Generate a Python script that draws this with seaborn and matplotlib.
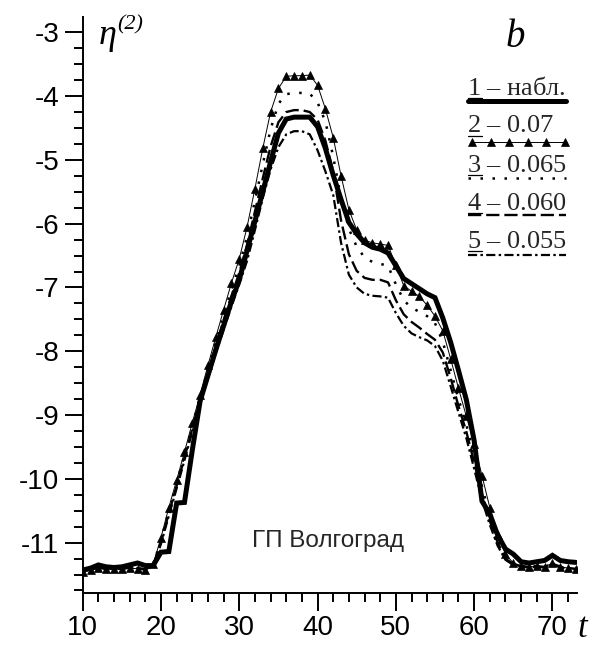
import matplotlib
matplotlib.use("Agg")
import matplotlib.pyplot as plt
import seaborn as sns
from matplotlib.lines import Line2D
from matplotlib.ticker import MultipleLocator

# ---------------- data ----------------
t = list(range(10, 74))

obs = [-11.43, -11.40, -11.35, -11.38, -11.39, -11.38, -11.35, -11.32, -11.36, -11.36,
       -11.15, -11.14, -10.38, -10.37, -9.55, -8.78, -8.38, -7.98, -7.60, -7.22,
       -6.88, -6.42, -5.96, -5.50, -5.03, -4.58, -4.36, -4.33, -4.33, -4.33,
       -4.48, -4.82, -5.24, -5.62, -5.98, -6.16, -6.30, -6.37, -6.40, -6.46,
       -6.66, -6.86, -6.94, -7.02, -7.10, -7.16, -7.48, -7.86, -8.30, -8.76,
       -9.40, -10.35, -10.55, -10.88, -11.10, -11.18, -11.30, -11.32, -11.30, -11.28,
       -11.20, -11.28, -11.30, -11.31]

m070 = [-11.46, -11.43, -11.40, -11.42, -11.41, -11.42, -11.40, -11.41, -11.43, -11.34,
        -10.92, -10.45, -10.02, -9.58, -9.12, -8.68, -8.22, -7.78, -7.35, -6.93,
        -6.55, -6.05, -5.45, -4.82, -4.25, -3.88, -3.69, -3.68, -3.68, -3.67,
        -3.83, -4.20, -4.65, -5.25, -5.78, -6.10, -6.26, -6.30, -6.32, -6.34,
        -6.65, -6.97, -7.06, -7.14, -7.28, -7.45, -7.68, -8.12, -8.58, -9.02,
        -9.45, -9.95, -10.45, -10.88, -11.18, -11.32, -11.36, -11.38, -11.37, -11.38,
        -11.32, -11.38, -11.40, -11.42]

m065 = [-11.45, -11.42, -11.39, -11.41, -11.40, -11.41, -11.39, -11.40, -11.42, -11.35,
        -10.96, -10.50, -10.07, -9.63, -9.17, -8.72, -8.28, -7.85, -7.43, -7.03,
        -6.66, -6.20, -5.64, -5.07, -4.52, -4.12, -3.97, -3.95, -3.95, -3.96,
        -4.10, -4.40, -4.95, -5.60, -6.08, -6.36, -6.53, -6.60, -6.63, -6.66,
        -6.95, -7.20, -7.32, -7.38, -7.45, -7.56, -7.85, -8.30, -8.75, -9.15,
        -9.62, -10.12, -10.58, -10.95, -11.22, -11.33, -11.37, -11.38, -11.37, -11.38,
        -11.33, -11.38, -11.40, -11.41]

m060 = [-11.45, -11.42, -11.39, -11.41, -11.40, -11.41, -11.39, -11.40, -11.42, -11.36,
        -10.99, -10.54, -10.11, -9.67, -9.21, -8.76, -8.33, -7.92, -7.51, -7.13,
        -6.77, -6.33, -5.81, -5.29, -4.79, -4.41, -4.25, -4.22, -4.22, -4.25,
        -4.37, -4.70, -5.18, -5.95, -6.48, -6.74, -6.85, -6.88, -6.88, -6.92,
        -7.20, -7.42, -7.54, -7.63, -7.73, -7.82, -8.02, -8.42, -8.86, -9.26,
        -9.74, -10.24, -10.66, -11.00, -11.25, -11.34, -11.37, -11.38, -11.37, -11.38,
        -11.33, -11.38, -11.40, -11.41]

m055 = [-11.45, -11.42, -11.39, -11.41, -11.40, -11.41, -11.39, -11.40, -11.42, -11.37,
        -11.02, -10.58, -10.15, -9.71, -9.26, -8.81, -8.42, -8.03, -7.66, -7.30,
        -6.95, -6.58, -6.10, -5.60, -5.15, -4.80, -4.60, -4.55, -4.55, -4.60,
        -4.85, -5.18, -5.55, -6.30, -6.80, -7.00, -7.10, -7.13, -7.14, -7.16,
        -7.40, -7.60, -7.72, -7.78, -7.83, -7.92, -8.15, -8.55, -8.96, -9.36,
        -9.84, -10.33, -10.72, -11.05, -11.27, -11.35, -11.38, -11.39, -11.38, -11.39,
        -11.34, -11.39, -11.41, -11.42]

legend_nums = ["1", "2", "3", "4", "5"]
legend_texts = [" – набл.", " – 0.07", " – 0.065", " – 0.060", " – 0.055"]
xticks = [10, 20, 30, 40, 50, 60, 70]
yticks = [-11, -10, -9, -8, -7, -6, -5, -4, -3]
station = "ГП Волгоград"

# ---------------- style ----------------
sns.set_style("ticks")
plt.rcParams['font.family'] = ['Liberation Sans', 'DejaVu Sans']
plt.rcParams['axes.unicode_minus'] = False
plt.rcParams['mathtext.fontset'] = 'custom'
plt.rcParams['mathtext.it'] = 'Liberation Serif:italic'
plt.rcParams['mathtext.rm'] = 'Liberation Serif'

W, H = 590, 646
fig = plt.figure(figsize=(W / 100, H / 100), dpi=100)
ax = fig.add_axes([82.7 / W, 53 / H, (576.7 - 82.7) / W, (593 - 17) / H])

s_obs = dict(color='k', lw=3.6, solid_joinstyle='miter')
s_070 = dict(color='k', lw=0.7, marker='^', markersize=5.5, markerfacecolor='k',
             markeredgecolor='k', markeredgewidth=0.5)
s_065 = dict(color='k', lw=1.8, linestyle=(0, (1.0, 3.8)))
s_060 = dict(color='k', lw=1.7, linestyle=(0, (5.6, 2.1)))
s_055 = dict(color='k', lw=1.6, linestyle=(0, (4.1, 1.5, 1.1, 1.5)))

sns.lineplot(x=t, y=m055, ax=ax, errorbar=None, **s_055)
sns.lineplot(x=t, y=m060, ax=ax, errorbar=None, **s_060)
sns.lineplot(x=t, y=m065, ax=ax, errorbar=None, **s_065)
sns.lineplot(x=t, y=m070, ax=ax, errorbar=None, **s_070)
sns.lineplot(x=t, y=obs, ax=ax, errorbar=None, **s_obs)

ax.set_xlim(10, 73.1)
ax.set_ylim(-11.79, -2.76)
ax.set_xticks(xticks)
ax.set_yticks(yticks)
ax.set_xticklabels([str(v) for v in xticks])
ax.set_yticklabels([str(v) for v in yticks])
ax.xaxis.set_minor_locator(MultipleLocator(2))
ax.yaxis.set_minor_locator(MultipleLocator(0.25))
ax.tick_params(which='major', length=13, width=1.4, direction='out', labelsize=20,
               colors='k')
ax.tick_params(axis='x', which='major', pad=3)
ax.tick_params(axis='y', which='major', pad=4)
ax.tick_params(which='minor', length=6.5, width=1.4, direction='out', colors='k')
for s in ['top', 'right']:
    ax.spines[s].set_visible(False)
for s in ['left', 'bottom']:
    ax.spines[s].set_linewidth(1.4)
    ax.spines[s].set_color('k')
ax.set_xlabel('')
ax.set_ylabel('')

# station label
ax.text(251.7 / W, 1 - 541 / H, station, transform=fig.transFigure, fontsize=17.5,
        family=['Liberation Sans', 'DejaVu Sans'], ha='left', va='center')

# axis symbols
serif_it = dict(family=['Liberation Serif', 'DejaVu Serif'], style='italic', color='k')
fig.text(99 / W, 1 - 44 / H, "η", fontsize=26, ha='left', va='baseline', **serif_it)
fig.text(117 / W, 1 - 29 / H, "(2)", fontsize=16, ha='left', va='baseline', **serif_it)
fig.text(515 / W, 1 - 47 / H, "b", fontsize=28, ha='center', va='baseline', **serif_it)
fig.text(582 / W, 1 - 637 / H, "t", fontsize=25, ha='center', va='baseline', **serif_it)

# legend (manual, as in the original figure)
text_base = [95, 132.5, 172, 210, 248]
line_y = [100.5, 141.7, 178, 215, 255]
line_styles = [s_obs, s_070, s_065, s_060, s_055]
for num, txt, yb, yl, st in zip(legend_nums, legend_texts, text_base, line_y, line_styles):
    fig.text(467 / W, 1 - yb / H, r"$\mathit{" + num + "}$" + txt, fontsize=19,
             ha='left', va='baseline', family=['Liberation Serif', 'DejaVu Serif'])
    fig.add_artist(Line2D([468 / W, 482 / W], [1 - (yb + 3) / H, 1 - (yb + 3) / H],
                          transform=fig.transFigure, color='k', lw=0.9))
    kw = dict(st)
    if 'marker' in kw:
        xs = [472 / W + i * (18.6 / W) for i in range(6)]
        fig.add_artist(Line2D(xs, [1 - yl / H] * 6, transform=fig.transFigure, **kw))
    else:
        fig.add_artist(Line2D([468 / W, 566 / W], [1 - yl / H, 1 - yl / H],
                              transform=fig.transFigure, **kw))

fig.savefig("out.png", dpi=100)
